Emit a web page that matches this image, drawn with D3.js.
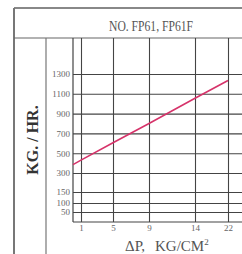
<!DOCTYPE html>
<html>
<head>
<meta charset="utf-8">
<script src="https://cdn.jsdelivr.net/npm/d3@7"></script>
<style>
body { margin: 0; background: #fff; }
</style>
</head>
<body>
<div id="chart"></div>
<script>
// values
var pressure = [0, 1, 5, 9, 14, 22];
var flow = [385, 430, 605, 800, 1055, 1235];
var xTicks = [1, 5, 9, 14, 22];
var yTicks = [1300, 1100, 900, 700, 500, 300, 150, 100, 50];
var title = "NO. FP61, FP61F";

function init(){

var w = 242;
var h = 254;
var left = 73, right = 242, top = 38, bottom = 222;

var svg = d3.select("#chart")
    .append("svg")
    .attr("width", w)
    .attr("height", h)
    .style("font-family", "'Liberation Serif', serif");

// the axes on the sheet are not evenly spaced, so piecewise scales
var x = d3.scaleLinear()
    .domain([0, 1, 5, 9, 14, 22])
    .range([left, 81, 113, 149, 195, 228]);

var y = d3.scaleLinear()
    .domain([0, 50, 100, 150, 300, 1300])
    .range([bottom, 212, 203, 192, 173, 74]);

// frame
svg.append("line").attr("x1", 14).attr("x2", w).attr("y1", 8).attr("y2", 8)
    .attr("stroke", "#888").attr("stroke-width", 2);
svg.append("line").attr("x1", 14).attr("x2", 14).attr("y1", 8).attr("y2", h)
    .attr("stroke", "#777").attr("stroke-width", 2);
svg.append("line").attr("x1", 14).attr("x2", w).attr("y1", top).attr("y2", top)
    .attr("stroke", "#666").attr("stroke-width", 1.2);
svg.append("line").attr("x1", 46).attr("x2", 46).attr("y1", top).attr("y2", h)
    .attr("stroke", "#777").attr("stroke-width", 1.2);

// grid via axes
var yAxis = svg.append("g")
    .attr("transform", "translate(" + left + ",0)")
    .call(d3.axisLeft(y).tickValues(yTicks).tickFormat(d3.format("d"))
        .tickSize(-(right - left)).tickPadding(3));

var xAxis = svg.append("g")
    .attr("transform", "translate(0," + bottom + ")")
    .call(d3.axisBottom(x).tickValues(xTicks).tickFormat(d3.format("d"))
        .tickSize(-(bottom - top)).tickPadding(3));

[yAxis, xAxis].forEach(function(g){
    g.select(".domain").remove();
    g.selectAll(".tick line").attr("stroke", "#444").attr("stroke-width", 1.1);
    g.selectAll(".tick text")
        .attr("fill", "#666")
        .style("font-family", "'Liberation Serif', serif")
        .style("font-size", "9px");
});

// plot border
svg.append("line").attr("x1", left).attr("x2", left).attr("y1", top).attr("y2", bottom)
    .attr("stroke", "#444").attr("stroke-width", 1.2);
svg.append("line").attr("x1", left).attr("x2", right).attr("y1", bottom).attr("y2", bottom)
    .attr("stroke", "#444").attr("stroke-width", 1.2);

// the curve
var line = d3.line()
    .x(function(d, i){ return x(pressure[i]); })
    .y(function(d){ return y(d); });

svg.append("path")
    .datum(flow)
    .attr("d", line)
    .attr("fill", "none")
    .attr("stroke", "#d6336a")
    .attr("stroke-width", 1.6);

// texts
svg.append("text")
    .text(title)
    .attr("x", 151)
    .attr("y", 31)
    .attr("text-anchor", "middle")
    .attr("textLength", 84)
    .attr("lengthAdjust", "spacingAndGlyphs")
    .attr("fill", "#555")
    .style("font-size", "14px");

svg.append("text")
    .text("KG. / HR.")
    .attr("transform", "translate(38,140) rotate(-90)")
    .attr("text-anchor", "middle")
    .attr("fill", "#333")
    .style("font-weight", "bold")
    .style("font-size", "16px");

var xt = svg.append("text")
    .attr("y", 251)
    .attr("fill", "#555")
    .style("font-size", "15px");
xt.append("tspan").attr("x", 125).text("\u0394P,");
xt.append("tspan").attr("x", 155).text("KG/CM");
xt.append("tspan").attr("dy", -6).style("font-size", "9px").text("2");

}

window.onload = init;
</script>
</body>
</html>
